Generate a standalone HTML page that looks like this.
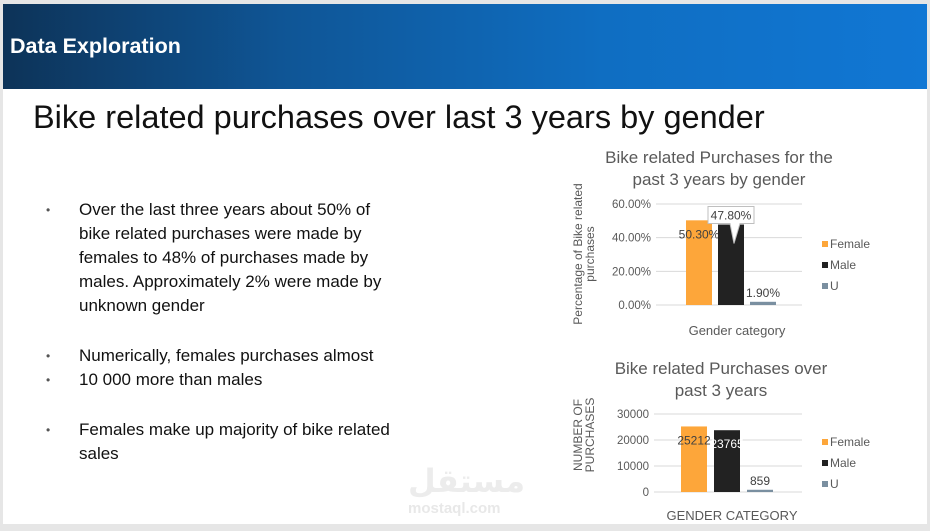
<!DOCTYPE html>
<html><head><meta charset="utf-8"><style>
body{margin:0;width:930px;height:531px;background:#e6e6e6;position:relative;overflow:hidden;font-family:"Liberation Sans",Arial,sans-serif}
#slide{position:absolute;left:3px;top:4px;width:924px;height:520px;background:#fff}
#hdr{position:absolute;left:3px;top:4px;width:924px;height:85px;background:linear-gradient(90deg,#0d3358 0%,#0f5595 30%,#0f6ec2 65%,#1177d4 100%)}
#hdr span{position:absolute;left:7px;top:30px;color:#fff;font-weight:bold;font-size:21.5px}
h1{position:absolute;left:33px;top:99px;margin:0;font-weight:normal;font-size:32.5px;color:#111}
ul{position:absolute;left:46px;top:198px;margin:0;padding:0;list-style:none;font-size:17px;line-height:24px;color:#111}
li{position:relative;padding-left:33px;width:320px}
li:before{content:"•";position:absolute;left:0;font-size:12px;color:#555}
svg{position:absolute;left:0;top:0}
</style></head><body>
<div id="slide"></div>
<div id="hdr"><span>Data Exploration</span></div>
<h1>Bike related purchases over last 3 years by gender</h1>
<ul>
<li>Over the last three years about 50% of bike related purchases were made by females to 48% of purchases made by males. Approximately 2% were made by unknown gender</li>
<li style="margin-top:26px">Numerically, females purchases almost</li>
<li>10 000 more than males</li>
<li style="margin-top:26px">Females make up majority of bike related sales</li>
</ul>
<div style="position:absolute;left:408px;top:462px;color:#ececec;font-size:32px;font-weight:bold;font-family:'DejaVu Sans',sans-serif">مستقل</div>
<div style="position:absolute;left:408px;top:500px;color:#e8e8e8;font-size:15px;font-weight:bold">mostaql.com</div>
<svg id="c" width="930" height="531"></svg>
<script>
const cats=["Female","Male","U"];
const colors=["#fda63a","#222222","#7a8fa0"];
const pctVals=[50.3,47.8,1.9];
const pctLabels=["50.30%","47.80%","1.90%"];
const pctTicks=[0,20,40,60];
const cntVals=[25212,23765,859];
const cntLabels=["25212","23765","859"];
const cntTicks=[0,10000,20000,30000];
const svg=document.getElementById('c');const NS="http://www.w3.org/2000/svg";
function mk(t,a,txt){const e=document.createElementNS(NS,t);for(const k in a)e.setAttribute(k,a[k]);if(txt!=null)e.textContent=txt;svg.appendChild(e);return e;}
function chart(o){
 const y=v=>o.y0-(v-o.tmin)/(o.tmax-o.tmin)*(o.y0-o.y1);
 o.title.forEach((t,i)=>{const e=mk('text',{x:o.tx,y:o.ty+i*22,'text-anchor':'middle','font-size':17,fill:'#595959'},t);});
 o.ticks.forEach(t=>{const g=mk('line',{x1:o.gx0,x2:o.gx1,y1:y(t),y2:y(t),stroke:'#d9d9d9'});
  const l=mk('text',{x:o.gx0-5,y:y(t)+4,'text-anchor':'end','font-size':11.5,fill:'#595959'},o.fmt(t));});
 o.vals.forEach((v,i)=>{const x=o.bx+i*o.step;const b=mk('rect',{x:x,y:y(v),width:o.bw,height:o.y0-y(v),fill:colors[i]});
  let lx=x+o.bw/2,ly=y(v)+o.lo[i],fill=o.lc[i];
  if(o.callout&&i==1){ly=y(v)-3;mk('path',{d:`M${lx-23} ${ly-15}h46v17h-14l-6 20l-4-20h-22z`,fill:'#fff',stroke:'#bfbfbf'});ly=ly-2;}
  const l=mk('text',{x:lx,y:ly,'text-anchor':'middle','font-size':12,fill:fill},o.labels[i]);
  const s=mk('rect',{x:o.lgx,y:o.lgy+i*21-7,width:6,height:6,fill:colors[i]});
  const t=mk('text',{x:o.lgx+8,y:o.lgy+i*21,'font-size':12,fill:'#595959'},cats[i]);});
 const xt=mk('text',{x:o.xtx,y:o.xty,'text-anchor':'middle','font-size':13,fill:'#595959'},o.xtitle);
 o.ytitle.forEach((t,i)=>{const e=mk('text',{x:0,y:0,'text-anchor':'middle','font-size':12,fill:'#595959',transform:`translate(${o.ytx+i*12},${o.yty}) rotate(-90)`},t);});
}
chart({id:'pct-chart',title:['Bike related Purchases for the','past 3 years by gender'],tx:719,ty:163,ticks:pctTicks,tmin:0,tmax:60,y0:305,y1:204,gx0:656,gx1:802,
 fmt:t=>t.toFixed(2)+'%',vals:pctVals,labels:pctLabels,bx:686,bw:26,step:32,lo:[18,0,-5],lc:['#404040','#404040','#404040'],callout:true,
 lgx:822,lgy:248,xtitle:'Gender category',xtx:737,xty:335,ytitle:['Percentage of Bike related','purchases'],ytx:582,yty:254});
chart({id:'count-chart',title:['Bike related Purchases over','past 3 years'],tx:721,ty:374,ticks:cntTicks,tmin:0,tmax:30000,y0:492,y1:414,gx0:654,gx1:802,
 fmt:t=>String(t),vals:cntVals,labels:cntLabels,bx:681,bw:26,step:33,lo:[18,18,-5],lc:['#404040','#ffffff','#404040'],callout:false,
 lgx:822,lgy:446,xtitle:'GENDER CATEGORY',xtx:732,xty:520,ytitle:['NUMBER OF','PURCHASES'],ytx:582,yty:435});
</script>
</body></html>
